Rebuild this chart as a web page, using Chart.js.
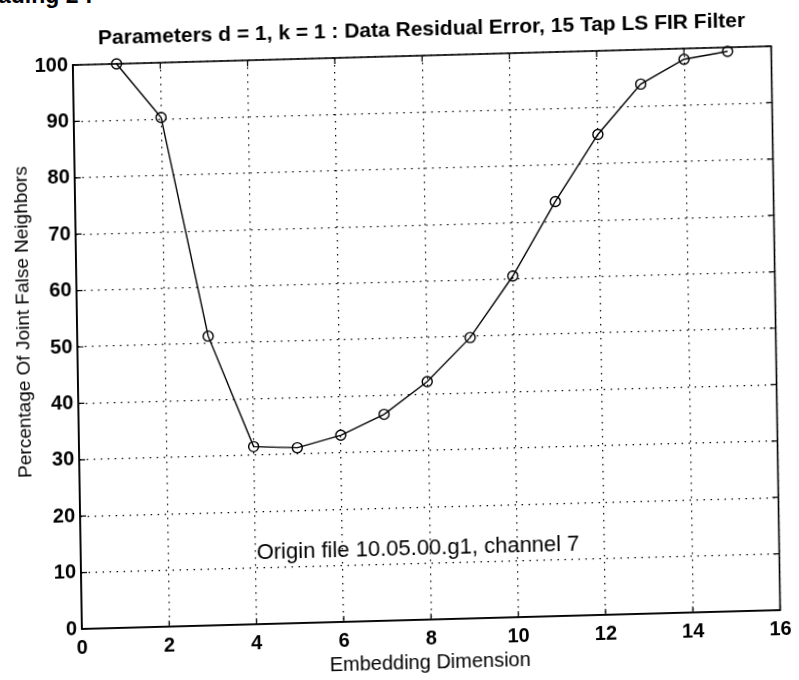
<!DOCTYPE html>
<html>
<head>
<meta charset="utf-8">
<script src="https://cdn.jsdelivr.net/npm/chart.js@4/dist/chart.umd.min.js"></script>
<style>
  html, body { margin: 0; padding: 0; background: #fff; overflow: hidden; width: 799px; height: 680px; }
  #head { position: absolute; left: -2px; top: -16px; font: bold 23px "Liberation Sans", Arial, sans-serif;
          line-height: 23px; color: #000; white-space: nowrap; }
  /* the printed page sits slightly skewed on the scanner bed */
  #page { position: absolute; left: 0; top: 0; width: 799px; height: 680px;
          transform-origin: 0 0; transform: matrix(1, -0.027, 0.016, 1, 0, 10); }
</style>
</head>
<body>
<div id="head">ading 2 :</div>
<div id="page"><canvas id="c" width="799" height="680"></canvas></div>
<script>
// Embedding dimension vs. percentage of joint false nearest neighbours
const dims = [1, 2, 3, 4, 5, 6, 7, 8, 9, 10, 11, 12, 13, 14, 15];
const jointFalsePct = [100, 90.3, 51.3, 31.5, 31.1, 33.1, 36.6, 42.2, 49.8, 60.5, 73.5, 85.2, 93.9, 98.1, 99.3];

const xTicks = [0, 2, 4, 6, 8, 10, 12, 14, 16];
const yTicks = [0, 10, 20, 30, 40, 50, 60, 70, 80, 90, 100];

const titleText = 'Parameters d = 1, k = 1 : Data Residual Error, 15 Tap LS FIR Filter';
const xTitle = 'Embedding Dimension';
const yTitle = 'Percentage Of Joint False Neighbors';
const noteText = 'Origin file 10.05.00.g1, channel 7';
const notePos = { x: 4.03, y: 12.6 };

const FONT = '"Liberation Sans", Arial, Helvetica, sans-serif';

// Solid box around the axes, inward tick marks on all four sides, and the free text
const frameAndText = {
  id: 'frameAndText',
  afterDraw(chart) {
    const { ctx, chartArea: a, scales: { x, y } } = chart;
    ctx.save();
    ctx.setLineDash([]);
    ctx.strokeStyle = '#000';
    ctx.lineWidth = 1.6;
    ctx.strokeRect(a.left, a.top, a.right - a.left, a.bottom - a.top);

    const tl = 6;
    ctx.lineWidth = 1.2;
    ctx.beginPath();
    xTicks.forEach(v => {
      const px = x.getPixelForValue(v);
      ctx.moveTo(px, a.bottom); ctx.lineTo(px, a.bottom - tl);
      ctx.moveTo(px, a.top); ctx.lineTo(px, a.top + tl);
    });
    yTicks.forEach(v => {
      const py = y.getPixelForValue(v);
      ctx.moveTo(a.left, py); ctx.lineTo(a.left + tl, py);
      ctx.moveTo(a.right, py); ctx.lineTo(a.right - tl, py);
    });
    ctx.stroke();

    ctx.fillStyle = '#000';
    ctx.textBaseline = 'middle';
    ctx.textAlign = 'center';
    ctx.font = '20px ' + FONT;
    ctx.fillText(xTitle, (a.left + a.right) / 2 - 1.5, a.bottom + 43.6);

    ctx.save();
    ctx.translate(a.left - 53.2, a.top + 255.6);
    ctx.rotate(-Math.PI / 2);
    ctx.font = '19px ' + FONT;
    ctx.fillText(yTitle, 0, 0);
    ctx.restore();

    ctx.textAlign = 'left';
    ctx.font = '22px ' + FONT;
    ctx.fillText(noteText, x.getPixelForValue(notePos.x), y.getPixelForValue(notePos.y));
    ctx.restore();
  }
};

const tickFont = { family: FONT, size: 20, weight: 'bold' };

new Chart(document.getElementById('c'), {
  type: 'line',
  data: {
    datasets: [{
      data: dims.map((d, i) => ({ x: d, y: jointFalsePct[i] })),
      borderColor: '#000',
      borderWidth: 1.4,
      tension: 0,
      pointStyle: 'circle',
      pointRadius: 5,
      pointBorderWidth: 1.4,
      pointBorderColor: '#000',
      pointBackgroundColor: 'rgba(0,0,0,0)',
      clip: false
    }]
  },
  options: {
    responsive: false,
    animation: false,
    devicePixelRatio: 1,
    layout: { padding: { left: 0, right: 28.5, top: 0, bottom: 0 } },
    plugins: {
      legend: { display: false },
      tooltip: { enabled: false },
      title: {
        display: true,
        text: titleText,
        fullSize: false,
        color: '#000',
        font: { family: FONT, size: 21, weight: 'bold' },
        padding: { top: 18.4, bottom: 13.4 }
      }
    },
    scales: {
      x: {
        type: 'linear',
        min: 0, max: 16,
        afterBuildTicks: s => { s.ticks = xTicks.map(v => ({ value: v })); },
        afterFit: s => { s.height = 59; },
        grid: { color: '#000', lineWidth: 1.2, drawTicks: false },
        border: { display: true, color: '#000', width: 1.6, dash: [1.5, 5.5] },
        ticks: { color: '#000', font: tickFont, padding: 7, maxRotation: 0 }
      },
      y: {
        type: 'linear',
        min: 0, max: 100,
        afterBuildTicks: s => { s.ticks = yTicks.map(v => ({ value: v })); },
        afterFit: s => { s.width = 72; },
        grid: { color: '#000', lineWidth: 1.2, drawTicks: false },
        border: { display: true, color: '#000', width: 1.6, dash: [1.5, 5.5] },
        ticks: { color: '#000', font: tickFont, padding: 5 }
      }
    }
  },
  plugins: [frameAndText]
});
</script>
</body>
</html>
